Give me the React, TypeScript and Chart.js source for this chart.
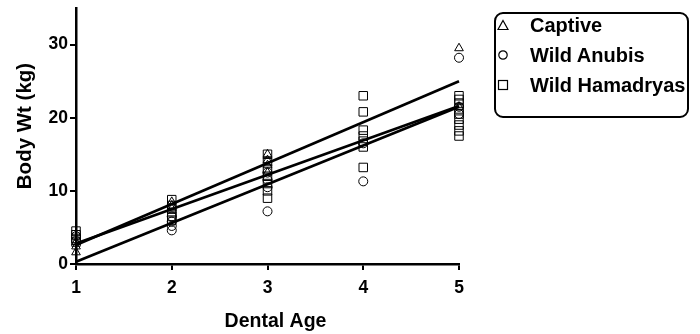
import React, { useEffect, useRef } from "react";
import { Chart, registerables } from "chart.js";

Chart.register(...registerables);

// ---- data ----
const ageTicks = [1, 2, 3, 4, 5];
const wtTicks = [0, 10, 20, 30];

const captiveAge = [1, 1, 1, 2, 2, 2, 3, 3, 3, 3, 5, 5];
const captiveWt = [1.6, 2.4, 3.0, 7.6, 8.0, 8.5, 12.5, 13.5, 14.2, 15.0, 21.5, 29.5];

const anubisAge = [1, 1, 2, 2, 2, 2, 3, 3, 3, 3, 4, 4, 5, 5, 5];
const anubisWt = [3.2, 3.8, 4.6, 5.2, 5.8, 6.5, 7.2, 10.5, 11.5, 12.5, 11.3, 16.5, 20.5, 21.5, 28.2];

const hamadryasAge = [1, 1, 1, 1, 2, 2, 2, 2, 2, 2, 3, 3, 3, 3, 3, 3, 3, 4, 4, 4, 4, 4, 4, 4, 5, 5, 5, 5, 5, 5, 5, 5, 5];
const hamadryasWt = [3.0, 3.5, 4.0, 4.5, 6.0, 6.5, 7.0, 7.5, 8.0, 8.8, 9.0, 10.0, 11.0, 12.0, 13.0, 14.0, 15.0, 13.2, 16.0, 16.8, 17.5, 18.3, 20.8, 23.0, 17.5, 18.2, 19.0, 19.8, 20.5, 21.2, 22.0, 22.5, 23.0];

const fitAge = [1, 5];
const captiveFit = [2.6, 25.0];
const anubisFit = [0.3, 21.5];
const hamadryasFit = [2.8, 21.6];

const legendLabels = ["Captive", "Wild Anubis", "Wild Hamadryas"];
const yTitle = "Body Wt (kg)";
const xTitle = "Dental Age";

const pts = (xs: number[], ys: number[]) => xs.map((x, i) => ({ x, y: ys[i] }));

const FONT = "'Liberation Sans', Arial, Helvetica, sans-serif";

const titlesPlugin = {
  id: "titlesPlugin",
  afterDraw(chart: any) {
    const ctx = chart.ctx;
    const area = chart.chartArea;
    ctx.save();
    ctx.fillStyle = "#000";
    ctx.textAlign = "center";
    ctx.textBaseline = "middle";
    // y title
    ctx.save();
    ctx.translate(25, (area.top + area.bottom) / 2 - 10);
    ctx.rotate(-Math.PI / 2);
    ctx.font = `bold 20.5px ${FONT}`;
    ctx.fillText(yTitle, 0, 0);
    ctx.restore();
    // x title
    ctx.font = `bold 19.5px ${FONT}`;
    ctx.fillText(xTitle, (area.left + area.right) / 2 + 8, 322);
    ctx.restore();
  },
};

export default function App() {
  const ref = useRef<HTMLCanvasElement | null>(null);

  useEffect(() => {
    if (!ref.current) return;
    const lineDs = (ys: number[]) => ({
      type: "line" as const,
      data: pts(fitAge, ys),
      borderColor: "#000",
      borderWidth: 2.7,
      pointRadius: 0,
      showLine: true,
      fill: false,
      clip: false,
    });
    const scatterDs = (label: string, xs: number[], ys: number[], style: string, r: number) => ({
      type: "scatter" as const,
      label,
      data: pts(xs, ys),
      pointStyle: style,
      pointRadius: r,
      pointBorderColor: "#000",
      pointBackgroundColor: "rgba(255,255,255,0)",
      pointBorderWidth: 1,
      borderColor: "#000",
      backgroundColor: "rgba(255,255,255,0)",
      clip: false,
    });
    const chart = new Chart(ref.current, {
      type: "scatter",
      data: {
        datasets: [
          scatterDs(legendLabels[0], captiveAge, captiveWt, "triangle", 5),
          scatterDs(legendLabels[1], anubisAge, anubisWt, "circle", 4.5),
          scatterDs(legendLabels[2], hamadryasAge, hamadryasWt, "rect", 6),
          lineDs(captiveFit),
          lineDs(anubisFit),
          lineDs(hamadryasFit),
        ] as any,
      },
      plugins: [titlesPlugin],
      options: {
        animation: false,
        responsive: false,
        layout: { padding: { top: 8, right: 241, left: 0, bottom: 0 } },
        plugins: { legend: { display: false }, tooltip: { enabled: false } },
        scales: {
          x: {
            type: "linear",
            min: 1,
            max: 5,
            afterFit: (s: any) => {
              s.height = 70;
              s.paddingLeft = 0;
              s.paddingRight = 0;
            },
            afterBuildTicks: (s: any) => {
              s.ticks = ageTicks.map((v) => ({ value: v }));
            },
            ticks: {
              color: "#000",
              font: { family: FONT, size: 17.5, weight: "bold" },
              padding: 8,
            },
            grid: {
              display: true,
              drawOnChartArea: false,
              drawTicks: true,
              tickLength: 6,
              color: "#000",
              lineWidth: 2,
            },
            border: { display: true, color: "#000", width: 2.5 },
            title: { display: false },
          },
          y: {
            type: "linear",
            min: 0,
            max: 35,
            afterFit: (s: any) => {
              s.width = 76;
              s.paddingTop = 0;
              s.paddingBottom = 0;
            },
            afterBuildTicks: (s: any) => {
              s.ticks = wtTicks.map((v) => ({ value: v }));
            },
            ticks: {
              color: "#000",
              font: { family: FONT, size: 17.5, weight: "bold" },
              padding: 2,
            },
            grid: {
              display: true,
              drawOnChartArea: false,
              drawTicks: true,
              tickLength: 6,
              color: "#000",
              lineWidth: 2,
            },
            border: { display: true, color: "#000", width: 2.5 },
            title: { display: false },
          },
        },
      } as any,
    });
    return () => chart.destroy();
  }, []);

  const marker = (i: number) => {
    if (i === 0)
      return (
        <svg width="12" height="12" style={{ display: "block" }}>
          <polygon points="6,1.5 11,10.5 1,10.5" fill="none" stroke="#000" strokeWidth="1.2" />
        </svg>
      );
    if (i === 1)
      return (
        <svg width="12" height="12" style={{ display: "block" }}>
          <circle cx="6" cy="6" r="4.2" fill="none" stroke="#000" strokeWidth="1.2" />
        </svg>
      );
    return (
      <svg width="12" height="12" style={{ display: "block" }}>
        <rect x="1.5" y="1.5" width="9" height="9" fill="none" stroke="#000" strokeWidth="1.2" />
      </svg>
    );
  };

  return (
    <div style={{ position: "fixed", left: 0, top: 0, width: 700, height: 334, background: "#fff" }}>
      <canvas ref={ref} width={700} height={334} style={{ position: "absolute", left: 0, top: 0 }} />
      <div
        style={{
          position: "absolute",
          left: 494,
          top: 12,
          width: 191,
          height: 102,
          border: "2px solid #000",
          borderRadius: 9,
          boxSizing: "content-box",
        }}
      />
      {legendLabels.map((t, i) => (
        <div
          key={t}
          style={{
            position: "absolute",
            left: 497,
            top: 14 + i * 30,
            height: 22,
            display: "flex",
            alignItems: "center",
            whiteSpace: "nowrap",
            fontFamily: FONT,
            fontWeight: "bold",
            fontSize: 20,
            color: "#000",
          }}
        >
          <span style={{ width: 33, display: "flex", justifyContent: "flex-start" }}>{marker(i)}</span>
          <span>{t}</span>
        </div>
      ))}
    </div>
  );
}
